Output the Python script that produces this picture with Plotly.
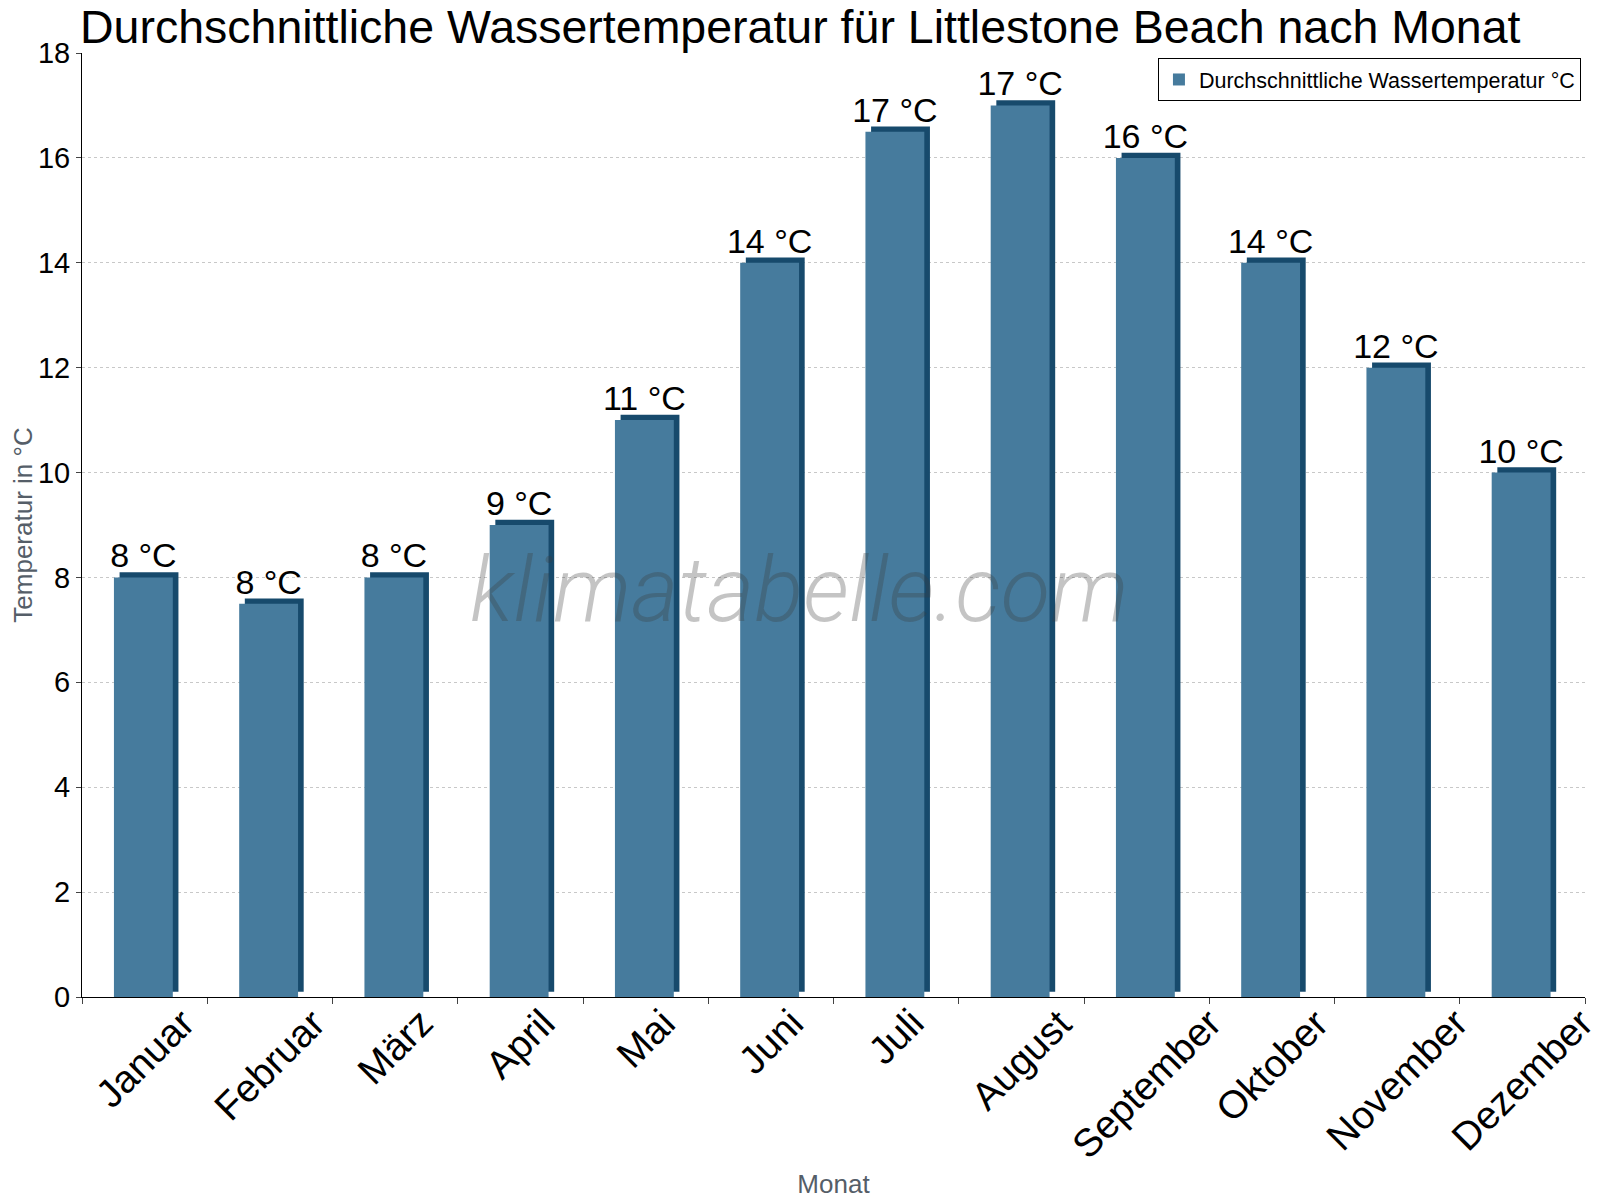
import plotly.graph_objects as go

monate = ['Januar', 'Februar', 'März', 'April', 'Mai', 'Juni', 'Juli',
          'August', 'September', 'Oktober', 'November', 'Dezember']
wassertemp = [8, 7.5, 8, 9, 11, 14, 16.5, 17, 16, 14, 12, 10]
beschriftung = ['8 °C', '8 °C', '8 °C', '9 °C', '11 °C', '14 °C', '17 °C',
                '17 °C', '16 °C', '14 °C', '12 °C', '10 °C']

front = '#467b9d'
dunkel = '#174a6c'
tiefe = 0.1  # pseudo 3D depth in y units

fig = go.Figure()

# dark "side/top" of the bar, shifted a bit right and up
fig.add_bar(
    x=monate, y=wassertemp, base=tiefe,
    width=0.47, offset=-0.2,
    marker=dict(color=dunkel, line=dict(width=0)),
    showlegend=False, hoverinfo='skip'
)

fig.add_bar(
    x=monate, y=wassertemp,
    width=0.47, offset=-0.245,
    marker=dict(color=front, line=dict(width=0)),
    text=beschriftung, textposition='outside', constraintext='none',
    textfont=dict(size=34, color='black'),
    cliponaxis=False,
    name='Durchschnittliche Wassertemperatur °C'
)

# rotated month labels, centred under each category
for m in monate:
    fig.add_annotation(
        x=m, y=0, xref='x', yref='y', text=m, textangle=-45,
        xanchor='center', yanchor='top', yshift=-1, showarrow=False,
        font=dict(size=39, color='black'),
    )

fig.add_annotation(
    text='klimatabelle.com', x=0.4777, y=0.431, xref='paper', yref='paper',
    showarrow=False,
    font=dict(family='Roboto', size=91, weight=300, style='italic',
              color='rgba(60,60,60,0.3)'),
)

fig.update_layout(
    width=1600, height=1200,
    barmode='overlay',
    plot_bgcolor='white', paper_bgcolor='white',
    font=dict(family='Liberation Sans', color='black'),
    title=dict(text='Durchschnittliche Wassertemperatur für Littlestone Beach nach Monat',
               x=0.045, xanchor='left', y=0.984, yanchor='middle',
               font=dict(size=46.5, color='black')),
    margin=dict(l=74, r=23, t=45, b=211),
    legend=dict(x=0.9973, y=0.9947, xanchor='right', yanchor='top',
                bgcolor='white', bordercolor='black', borderwidth=1,
                font=dict(size=21.5, color='black')),
)

fig.update_xaxes(
    type='category', range=[-0.5, len(monate) - 0.5],
    tickson='boundaries', ticks='outside', ticklen=6,
    showticklabels=False, automargin=False,
    showline=True, linecolor='black', linewidth=1, showgrid=False,
    title=dict(text='Monat', font=dict(size=26, color='#555e68'), standoff=177),
)

fig.update_yaxes(
    range=[0, 18], dtick=2, ticks='outside', ticklen=5, automargin=False,
    tickfont=dict(size=29, color='black'),
    showline=True, linecolor='black', linewidth=1,
    showgrid=True, gridcolor='#c8c8c8', griddash='dot', gridwidth=1,
    zeroline=False,
    title=dict(text='Temperatur in °C', font=dict(size=26, color='#555e68'), standoff=6),
)

fig.write_html('out.html')
